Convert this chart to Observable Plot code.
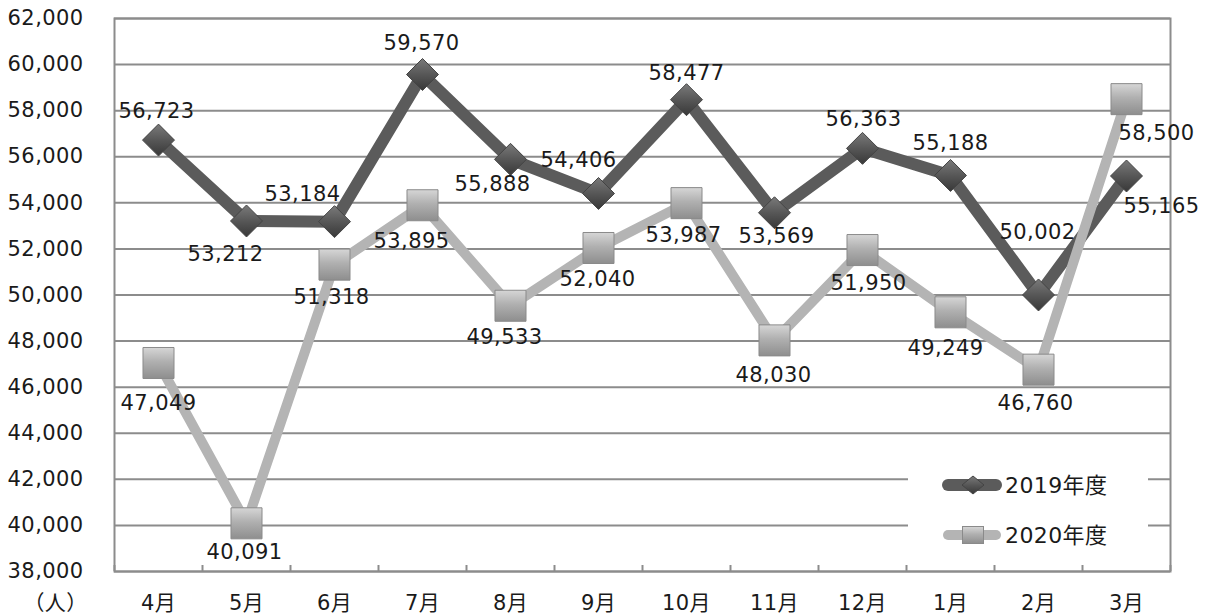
<!DOCTYPE html>
<html>
<head>
<meta charset="utf-8">
<script src="https://cdn.jsdelivr.net/npm/d3@7"></script>
<script src="https://cdn.jsdelivr.net/npm/@observablehq/plot@0.6"></script>
<style>
  html, body { margin: 0; padding: 0; background: #fff; }
  #wrap { position: relative; width: 1207px; height: 616px; font-family: "DejaVu Sans", "Noto Sans CJK JP", sans-serif; }
  #legend { position: absolute; left: 908px; top: 447px; width: 240px; height: 116px; background: #fff; }
</style>
</head>
<body>
<div id="wrap"></div>
<script>
// ---- data ----
const months = ["4月", "5月", "6月", "7月", "8月", "9月", "10月", "11月", "12月", "1月", "2月", "3月"];
const series2019 = [56723, 53212, 53184, 59570, 55888, 54406, 58477, 53569, 56363, 55188, 50002, 55165];
const series2020 = [47049, 40091, 51318, 53895, 49533, 52040, 53987, 48030, 51950, 49249, 46760, 58500];
const seriesNames = ["2019年度", "2020年度"];
const yTicks = [38000, 40000, 42000, 44000, 46000, 48000, 50000, 52000, 54000, 56000, 58000, 60000, 62000];
const unitLabel = "（人）";

// ---- label placement (pixel offsets from each point) ----
const off2019 = [[-2,-29],[-21,33],[-32,-27],[-1,-31],[-18,25],[-20,-33],[0,-26],[2,24],[1,-29],[0,-32],[-1,-63],[35,30]];
const off2020 = [[0,40],[-2,29],[-3,33],[-11,36],[-6,32],[-1,31],[-3,32],[-1,35],[6,33],[-5,36],[-3,34],[30,34]];

const FONT = "DejaVu Sans, Noto Sans CJK JP, sans-serif";
const FS = 21;
const fmt = d3.format(",");
const idx = months.map((_, i) => i);
const boundaries = d3.range(months.length + 1).map(k => k - 0.5);

const C19 = "#5b5b5b", C20 = "#b4b4b4", GRID = "#8c8c8c", TXT = "#1a1a1a";

const labelMarks = (vals, offs) => idx.map(i =>
  Plot.text([i], {
    x: d => d, y: d => vals[d], text: d => fmt(vals[d]),
    dx: offs[i][0], dy: offs[i][1],
    fontSize: FS, fill: TXT, fontFamily: FONT
  })
);

const chart = Plot.plot({
  width: 1207,
  height: 616,
  marginLeft: 114,
  marginRight: 37,
  marginTop: 18,
  marginBottom: 45,
  style: { fontFamily: FONT, fontSize: FS + "px", color: TXT, background: "#fff", letterSpacing: "0.4px" },
  x: { type: "linear", domain: [-0.5, months.length - 0.5] },
  y: { domain: [38000, 62000] },
  marks: [
    Plot.gridY(yTicks, { stroke: GRID, strokeOpacity: 1, strokeWidth: 2 }),
    Plot.frame({ stroke: GRID, strokeWidth: 2 }),
    Plot.axisY(yTicks, { tickSize: 0, tickPadding: 31, tickFormat: fmt, fontSize: FS, fill: TXT, label: null }),
    Plot.axisX(boundaries, { tickSize: -6, tickFormat: () => "", stroke: GRID, strokeWidth: 2, label: null }),
    Plot.axisX(idx, { tickSize: 0, tickPadding: 24, tickFormat: i => months[i], fontSize: FS, fill: TXT, label: null }),
    Plot.text([unitLabel], { frameAnchor: "bottom-left", textAnchor: "middle", lineAnchor: "middle", dx: -59, dy: 32, text: d => d, fontSize: FS, fill: TXT, fontFamily: "Noto Sans CJK JP" }),
    Plot.line(idx, { x: d => d, y: d => series2019[d], stroke: C19, strokeWidth: 12, strokeLinejoin: "round", strokeLinecap: "round" }),
    Plot.dot(idx, { x: d => d, y: d => series2019[d], symbol: "diamond2", r: 14.4, fill: "url(#gDia)", stroke: "#444", strokeWidth: 1 }),
    Plot.line(idx, { x: d => d, y: d => series2020[d], stroke: C20, strokeWidth: 10, strokeLinejoin: "round", strokeLinecap: "round" }),
    Plot.dot(idx, { x: d => d, y: d => series2020[d], symbol: "square", r: 17.5, fill: "url(#gSq)", stroke: "#8a8a8a", strokeWidth: 1 }),
    ...labelMarks(series2019, off2019),
    ...labelMarks(series2020, off2020)
  ]
});

const defsHTML = `
  <linearGradient id="gDia" x1="0" y1="0" x2="0" y2="1">
    <stop offset="0%" stop-color="#7a7a7a"/>
    <stop offset="50%" stop-color="#575757"/>
    <stop offset="100%" stop-color="#383838"/>
  </linearGradient>
  <linearGradient id="gSq" x1="0" y1="0" x2="0" y2="1">
    <stop offset="0%" stop-color="#d6d6d6"/>
    <stop offset="45%" stop-color="#b0b0b0"/>
    <stop offset="100%" stop-color="#8e8e8e"/>
  </linearGradient>`;
d3.select(chart).insert("defs", ":first-child").html(defsHTML);

const wrap = document.getElementById("wrap");
wrap.appendChild(chart);

// ---- legend (inside plot area, white box) ----
const leg = document.createElement("div");
leg.id = "legend";
leg.innerHTML = `
<svg width="240" height="116" style="font-family:${FONT};font-size:${FS}px;letter-spacing:0.4px">
  <defs>
    <linearGradient id="lgDia" x1="0" y1="0" x2="0" y2="1">
      <stop offset="0%" stop-color="#7a7a7a"/><stop offset="50%" stop-color="#575757"/><stop offset="100%" stop-color="#383838"/>
    </linearGradient>
    <linearGradient id="lgSq" x1="0" y1="0" x2="0" y2="1">
      <stop offset="0%" stop-color="#d6d6d6"/><stop offset="45%" stop-color="#b0b0b0"/><stop offset="100%" stop-color="#8e8e8e"/>
    </linearGradient>
  </defs>
  <g transform="translate(0,38)">
    <line x1="40" x2="88" y1="0" y2="0" stroke="${C19}" stroke-width="12" stroke-linecap="round"/>
    <path d="M65,-9L76,0L65,9L54,0Z" fill="url(#lgDia)" stroke="#444" stroke-width="1"/>
    <text x="97" y="0" dy="0.36em" fill="${TXT}" style="font-size:22px">${seriesNames[0]}</text>
  </g>
  <g transform="translate(0,88)">
    <line x1="40" x2="88" y1="0" y2="0" stroke="${C20}" stroke-width="10" stroke-linecap="round"/>
    <rect x="54.5" y="-8.5" width="21" height="17" fill="url(#lgSq)" stroke="#8a8a8a" stroke-width="1"/>
    <text x="97" y="0" dy="0.36em" fill="${TXT}" style="font-size:22px">${seriesNames[1]}</text>
  </g>
</svg>`;
wrap.appendChild(leg);
</script>
</body>
</html>
